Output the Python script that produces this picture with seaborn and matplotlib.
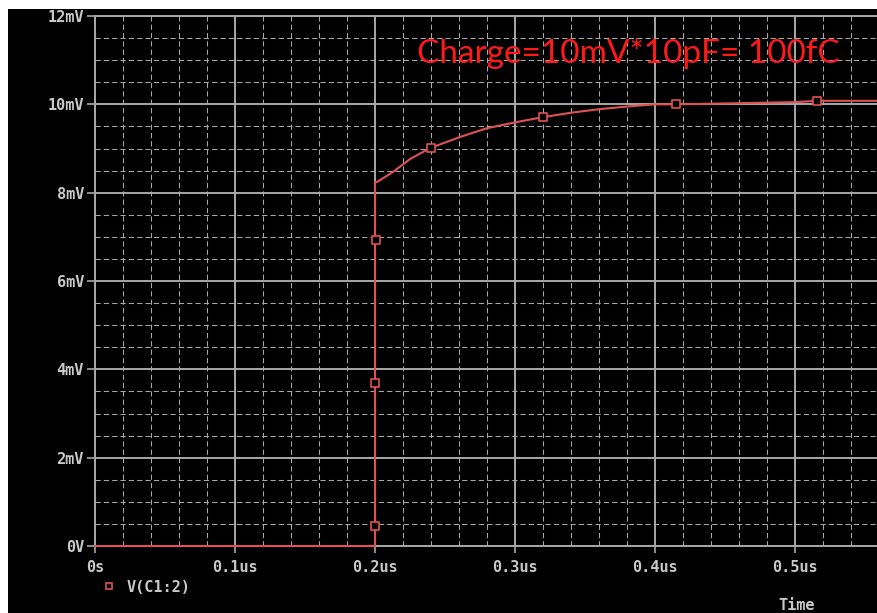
import numpy as np
import pandas as pd
import matplotlib
matplotlib.use("Agg")
import matplotlib.pyplot as plt
from matplotlib.patches import Rectangle
from matplotlib.lines import Line2D
from matplotlib.ticker import MultipleLocator
import seaborn as sns

# ------------------ Data ------------------
# Transient response V(C1:2): time in us, voltage in mV
time_us = [0.0, 0.2, 0.2, 0.2014, 0.2129, 0.2250, 0.2393, 0.2607, 0.28, 0.3014, 0.32,
           0.34, 0.36, 0.38, 0.40, 0.415, 0.45, 0.50, 0.516, 0.56]
volt_mv = [0.0, 0.0, 8.24, 8.24, 8.47, 8.76, 9.01, 9.26, 9.46, 9.60, 9.71,
           9.81, 9.89, 9.95, 10.0, 10.0, 10.02, 10.05, 10.08, 10.08]

# marker squares PSpice puts on the trace
mark_t = [0.2, 0.2, 0.2005, 0.24, 0.32, 0.415, 0.516]
mark_v = [0.45, 3.69, 6.93, 9.02, 9.71, 10.0, 10.08]

x_ticks = [0.0, 0.1, 0.2, 0.3, 0.4, 0.5]
x_labels = ["0s", "0.1us", "0.2us", "0.3us", "0.4us", "0.5us"]
y_ticks = [0, 2, 4, 6, 8, 10, 12]
y_labels = ["0V", "2mV", "4mV", "6mV", "8mV", "10mV", "12mV"]

trace_name = "V(C1:2)"
annotation = "Charge=10mV*10pF= 100fC"

df = pd.DataFrame({"t": time_us, "v": volt_mv})
marks = pd.DataFrame({"t": mark_t, "v": mark_v})

# ------------------ Style ------------------
sns.set_theme(style="dark")
plt.rcParams["font.family"] = ["DejaVu Sans Mono"]

trace_col = "#e05252"
grid_col = "#a8a8a8"
text_col = "#c8c8c8"

fig = plt.figure(figsize=(8.78, 6.13), dpi=100)
fig.patch.set_facecolor("black")
# white slide margin at top and left of the screenshot
fig.add_artist(Rectangle((0, 1 - 9 / 613), 1, 9 / 613, transform=fig.transFigure,
                         facecolor="white", edgecolor="none", zorder=0))
fig.add_artist(Rectangle((0, 0), 8 / 878, 1, transform=fig.transFigure,
                         facecolor="white", edgecolor="none", zorder=0))

ax = fig.add_axes([95 / 878, 67 / 613, 1 - 95 / 878, 530 / 613])
ax.set_facecolor("black")

# ------------------ Plot ------------------
sns.lineplot(data=df, x="t", y="v", sort=False, estimator=None, color=trace_col,
             lw=1.5, ax=ax, zorder=3, clip_on=False)
sns.scatterplot(data=marks, x="t", y="v", marker="s", s=26, facecolor="black",
                edgecolor=trace_col, linewidth=1.2, ax=ax, zorder=4)

ax.set_xlim(0, (878 - 95) / 1400)
ax.set_ylim(0, 12)
ax.set_xticks(x_ticks)
ax.set_xticklabels(x_labels)
ax.set_yticks(y_ticks)
ax.set_yticklabels(y_labels)
ax.xaxis.set_minor_locator(MultipleLocator(0.02))
ax.yaxis.set_minor_locator(MultipleLocator(0.5))
ax.set_xlabel("")
ax.set_ylabel("")

ax.grid(which="major", color=grid_col, lw=1.4, ls="-", zorder=1)
ax.grid(which="minor", color=grid_col, lw=0.75, ls=(0, (5, 3)), zorder=1)
ax.set_axisbelow(True)

ax.tick_params(axis="y", which="major", left=True, length=6, width=1.2, color=grid_col,
               labelcolor=text_col, labelsize=11, pad=2)
ax.tick_params(axis="x", which="major", bottom=True, length=5, width=1.2, color=grid_col,
               labelcolor=text_col, labelsize=11, pad=5)
ax.tick_params(which="minor", length=0)
for lab in ax.get_xticklabels() + ax.get_yticklabels():
    lab.set_fontweight("bold")

for side in ["left", "bottom", "top"]:
    ax.spines[side].set_visible(True)
    ax.spines[side].set_color(grid_col)
    ax.spines[side].set_linewidth(1.4)
ax.spines["right"].set_visible(False)

# legend under the x axis, PSpice style
handle = Line2D([], [], marker="s", ls="none", mfc="black", mec=trace_col, ms=5, mew=1.2)
leg = ax.legend(handles=[handle], labels=[trace_name], frameon=False, loc="center left",
                bbox_to_anchor=(94 / 878, 1 - 587 / 613), bbox_transform=fig.transFigure,
                handlelength=1.0, handletextpad=0.6, borderpad=0,
                prop={"size": 11, "weight": "bold"})
for t in leg.get_texts():
    t.set_color(text_col)

fig.text(797 / 878, 1 - 605 / 613, "Time", color=text_col, fontsize=11,
         fontweight="bold", ha="center", va="center")

fig.text(417 / 878, 1 - 63 / 613, annotation, color="#ff1a1a", fontsize=24,
         ha="left", va="baseline", family=["Lato", "DejaVu Sans"])

plt.savefig("out.png", dpi=100, facecolor=fig.get_facecolor())
